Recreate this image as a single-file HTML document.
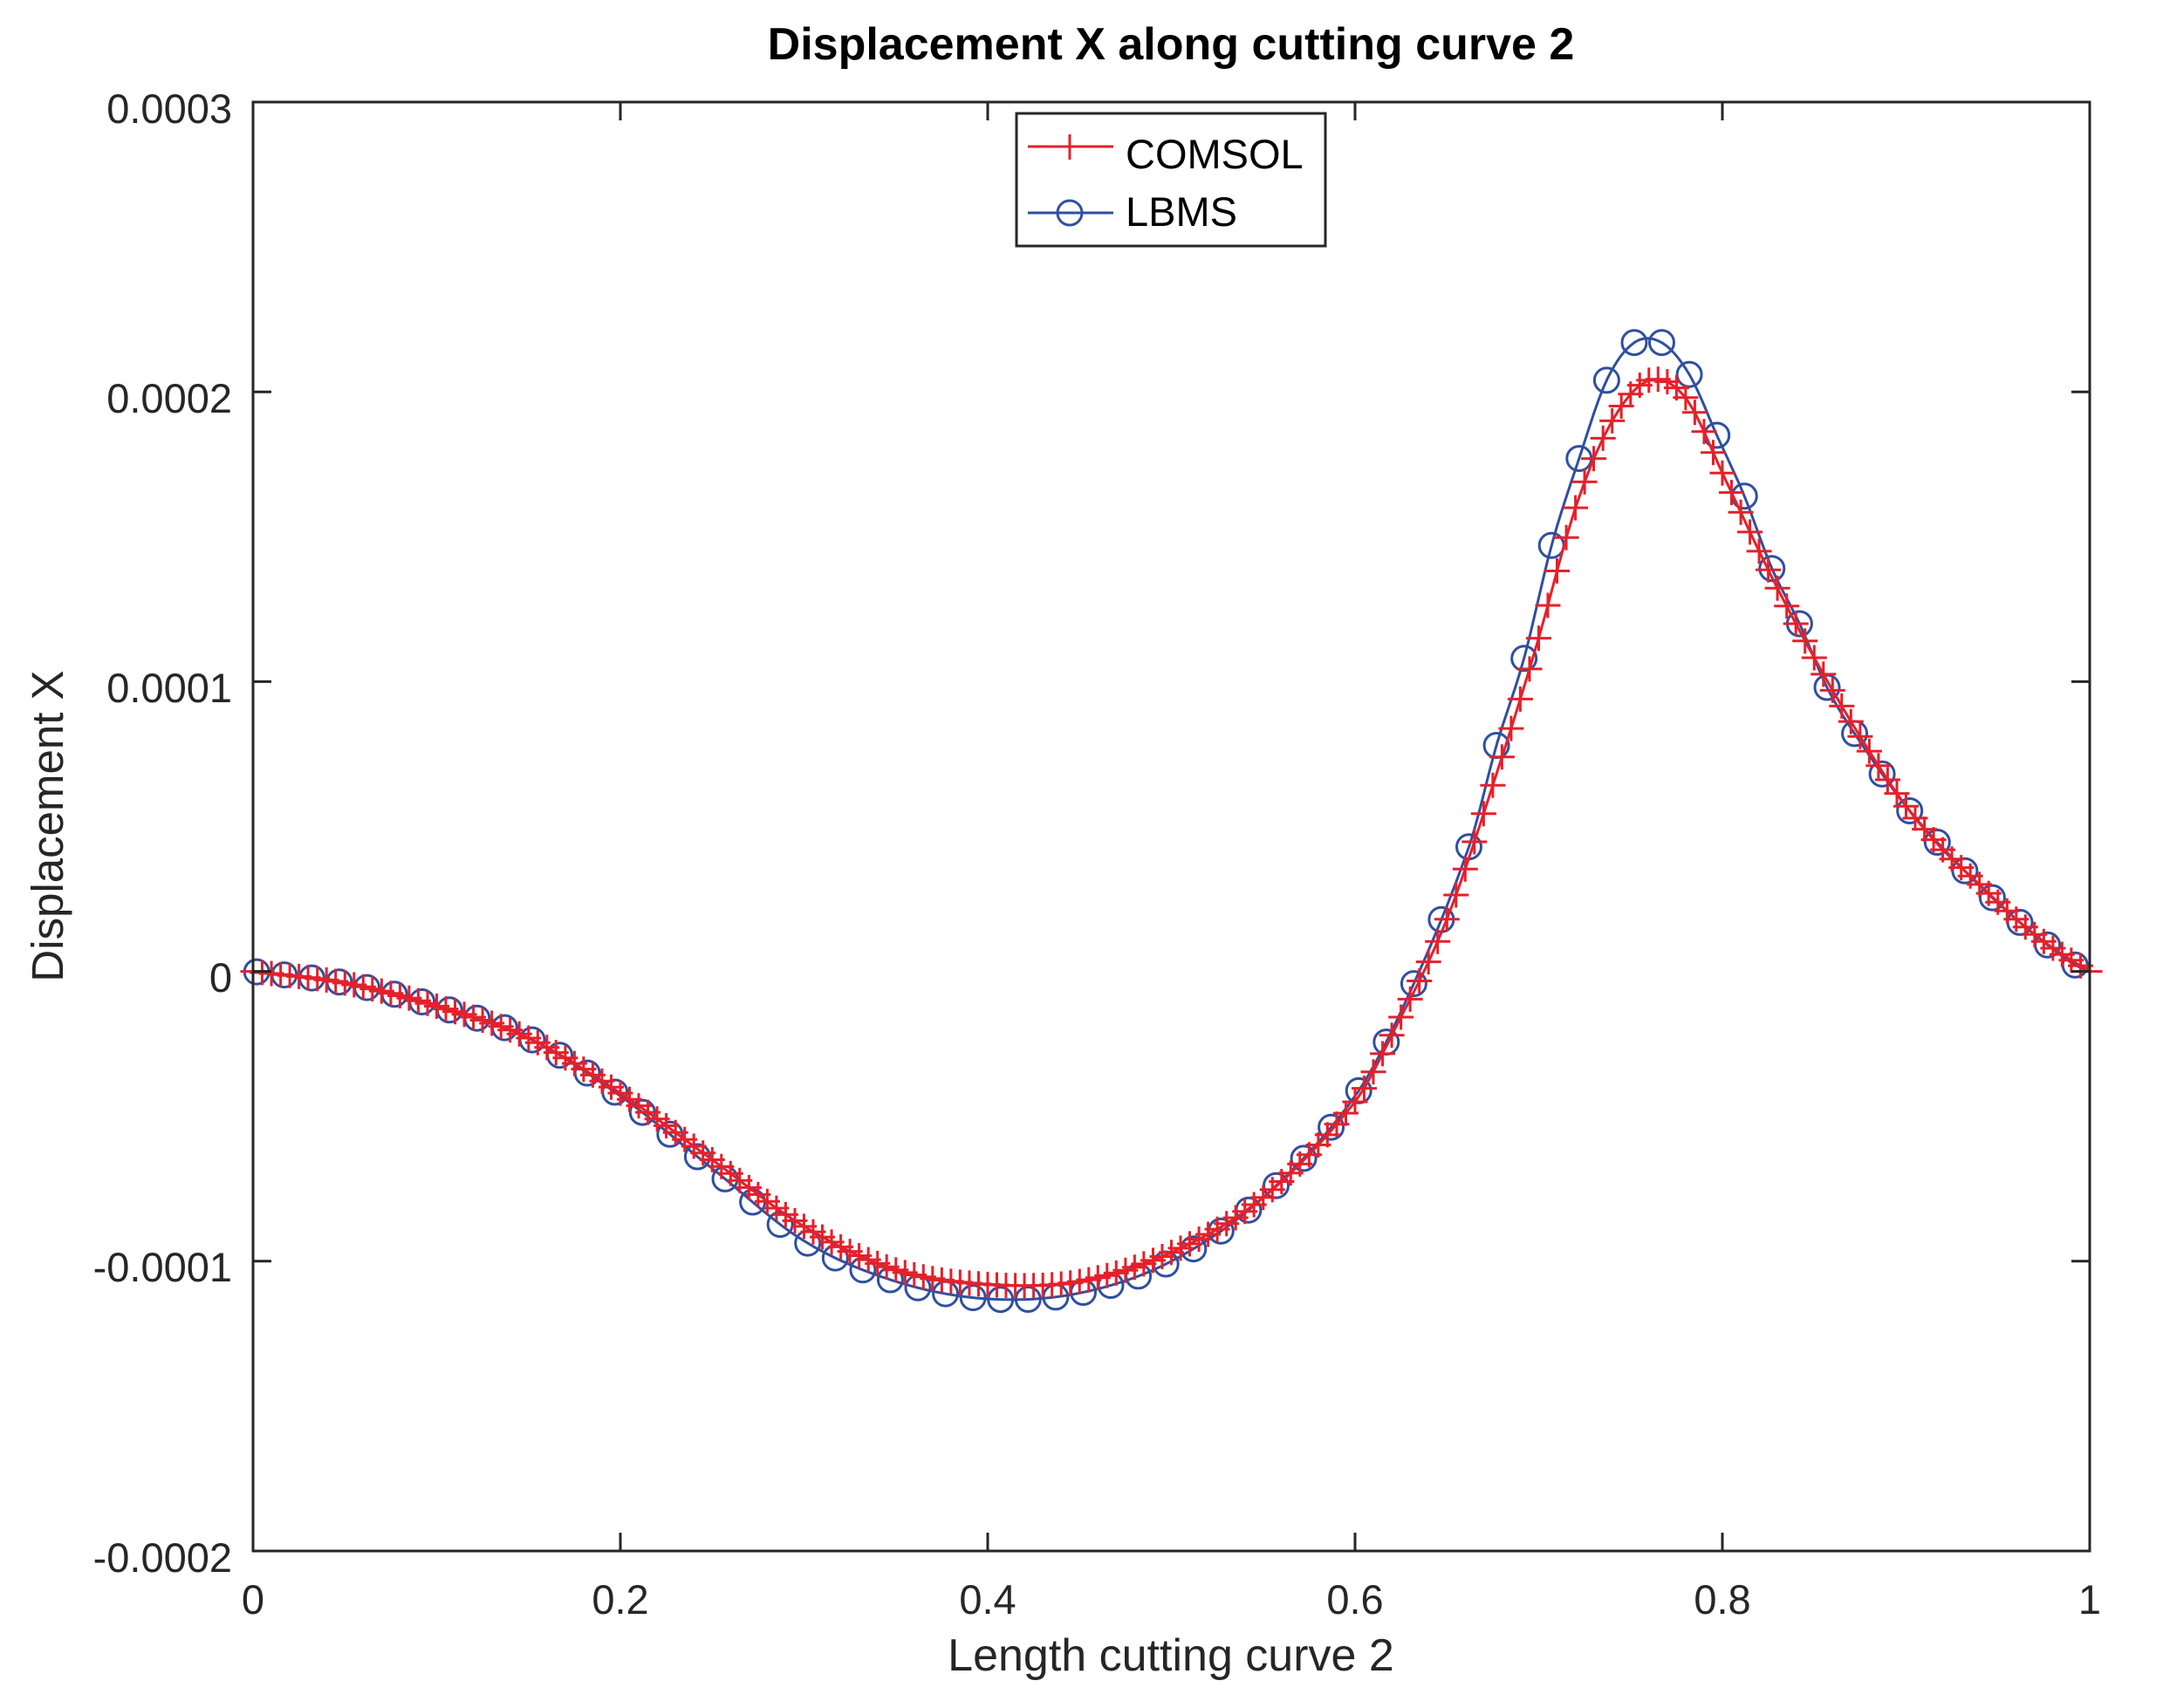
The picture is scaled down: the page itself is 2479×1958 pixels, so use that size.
<!DOCTYPE html>
<html><head><meta charset="utf-8"><style>
html,body{margin:0;padding:0;background:#fff;}
svg{display:block;font-family:"Liberation Sans",sans-serif;}
</style></head><body>
<svg id="s" width="2479" height="1958" xmlns="http://www.w3.org/2000/svg">
<rect width="2479" height="1958" fill="#fff"/>
<g id="data"></g>
<g stroke="#262626" stroke-width="3" fill="none">
<rect x="290" y="117" width="2105" height="1661"/>
</g>
<g id="ticks" stroke="#262626" stroke-width="3"></g>
<g fill="#262626" font-size="47" text-anchor="end">
<text x="266" y="141">0.0003</text>
<text x="266" y="473">0.0002</text>
<text x="266" y="805">0.0001</text>
<text x="266" y="1137">0</text>
<text x="266" y="1469">-0.0001</text>
<text x="266" y="1802">-0.0002</text>
</g>
<g fill="#262626" font-size="47" text-anchor="middle">
<text x="290" y="1850">0</text>
<text x="711" y="1850">0.2</text>
<text x="1132" y="1850">0.4</text>
<text x="1553" y="1850">0.6</text>
<text x="1974" y="1850">0.8</text>
<text x="2395" y="1850">1</text>
<text x="1342" y="1915" font-size="52">Length cutting curve 2</text>
<text x="1342" y="68" font-size="52" font-weight="bold" fill="#000">Displacement X along cutting curve 2</text>
<text transform="translate(72,947) rotate(-90)" font-size="51">Displacement X</text>
</g>
<g>
<rect x="1165" y="130" width="354" height="152" fill="#fff" stroke="#262626" stroke-width="3"/>
<line x1="1178" y1="168" x2="1276" y2="168" stroke="#e5202a" stroke-width="3"/>
<line x1="1226" y1="154" x2="1226" y2="183" stroke="#e5202a" stroke-width="3"/>
<line x1="1178" y1="244" x2="1276" y2="244" stroke="#2f4fa0" stroke-width="3"/>
<circle cx="1226" cy="244" r="14" fill="none" stroke="#2f4fa0" stroke-width="3"/>
<text x="1290" y="193" font-size="47" fill="#000">COMSOL</text>
<text x="1290" y="259" font-size="47" fill="#000">LBMS</text>
</g>
</svg>
<script>
(function(){
var X0=290,X1=2395,Y0=1113.6,S=332.2;
function px(x){return X0+x*(X1-X0);}
function py(v){return Y0-v*S;}
function interp(pts,x){
 for(var i=0;i<pts.length-1;i++){
  if(x<=pts[i+1][0]){
   var p0=pts[Math.max(0,i-1)],p1=pts[i],p2=pts[i+1],p3=pts[Math.min(pts.length-1,i+2)];
   var h=p2[0]-p1[0],t=(x-p1[0])/h;
   var m1=(p2[1]-p0[1])/(p2[0]-p0[0])*h, m2=(p3[1]-p1[1])/(p3[0]-p1[0])*h;
   var t2=t*t,t3=t2*t;
   return (2*t3-3*t2+1)*p1[1]+(t3-2*t2+t)*m1+(-2*t3+3*t2)*p2[1]+(t3-t2)*m2;
  }
 }
 return pts[pts.length-1][1];
}
var C=[[0,0],[0.05,-0.04],[0.1,-0.12],[0.15,-0.23],[0.2,-0.42],[0.25,-0.65],[0.3,-0.88],[0.35,-1.03],[0.4,-1.08],[0.45,-1.07],[0.5,-0.97],[0.55,-0.78],[0.6,-0.45],[0.62,-0.22],[0.65,0.18],[0.68,0.74],[0.7,1.15],[0.72,1.6],[0.74,1.9],[0.76,2.04],[0.78,1.98],[0.8,1.72],[0.82,1.45],[0.84,1.2],[0.86,0.97],[0.88,0.76],[0.9,0.57],[0.92,0.42],[0.94,0.3],[0.96,0.18],[0.98,0.08],[1,0]];
var L=[[0,0],[0.05,-0.04],[0.1,-0.12],[0.15,-0.23],[0.2,-0.43],[0.25,-0.68],[0.3,-0.93],[0.35,-1.07],[0.4,-1.13],[0.45,-1.11],[0.5,-1.0],[0.55,-0.78],[0.6,-0.43],[0.63,-0.07],[0.662,0.43],[0.677,0.78],[0.692,1.08],[0.707,1.47],[0.722,1.77],[0.737,2.04],[0.752,2.17],[0.767,2.17],[0.782,2.06],[0.797,1.85],[0.812,1.64],[0.827,1.39],[0.842,1.2],[0.857,0.98],[0.87,0.84],[0.9,0.57],[0.93,0.36],[0.96,0.18],[0.99,0.03],[1,0]];
var g='';
var circ='';
for(var i=0;i<=66;i++){var x=0.002+0.015*i;var v=interp(L,x);var X=px(x),Y=py(v);circ+='<circle cx="'+X.toFixed(1)+'" cy="'+Y.toFixed(1)+'" r="14"/>';}
var dl='';for(var i=0;i<=400;i++){var x=i/400;dl+=(i?'L':'M')+px(x).toFixed(1)+' '+py(interp(L,x)).toFixed(1);}
var dc='',plus='';
for(var i=0;i<=200;i++){var x=i/200;var v=interp(C,x);var X=px(x),Y=py(v);dc+=(i?'L':'M')+X.toFixed(1)+' '+Y.toFixed(1);plus+='M'+(X-14.5).toFixed(1)+' '+Y.toFixed(1)+'h29M'+X.toFixed(1)+' '+(Y-14.5).toFixed(1)+'v29';}
g+='<path d="'+dl+'" fill="none" stroke="#2f4fa0" stroke-width="3"/>';
g+='<g fill="none" stroke="#2f4fa0" stroke-width="3">'+circ+'</g>';
g+='<path d="'+dc+'" fill="none" stroke="#e5202a" stroke-width="3"/>';
g+='<path d="'+plus+'" fill="none" stroke="#e5202a" stroke-width="3"/>';
document.getElementById('data').innerHTML=g;
var t='';
for(var k=0;k<=5;k++){var X=px(k*0.2);t+='<line x1="'+X+'" y1="1778" x2="'+X+'" y2="1757"/><line x1="'+X+'" y1="117" x2="'+X+'" y2="138"/>';}
for(var k=0;k<=5;k++){var Y=117+k*332.2;t+='<line x1="290" y1="'+Y+'" x2="311" y2="'+Y+'"/><line x1="2395" y1="'+Y+'" x2="2374" y2="'+Y+'"/>';}
document.getElementById('ticks').innerHTML=t;
})();
</script>
</body></html>
